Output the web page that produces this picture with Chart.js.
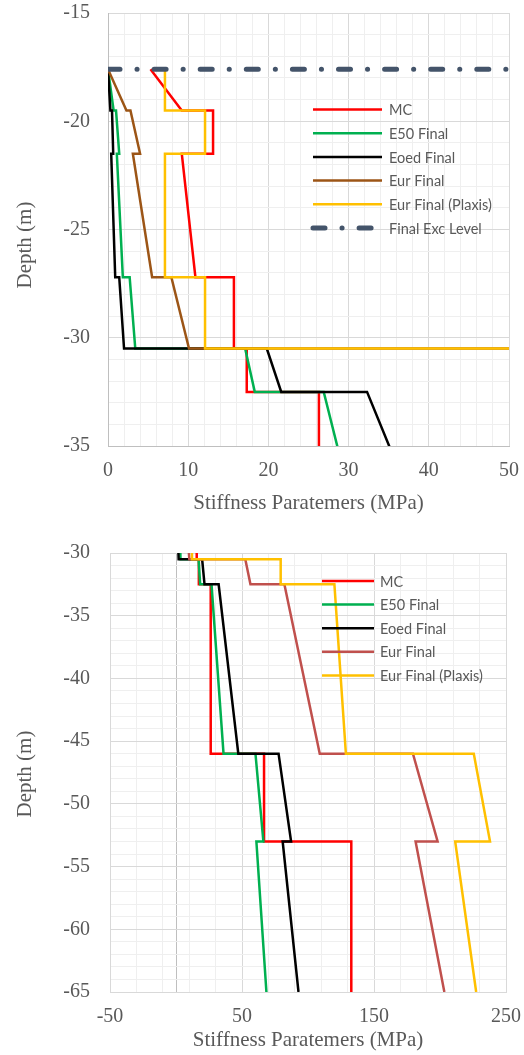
<!DOCTYPE html>
<html>
<head>
<meta charset="utf-8">
<script src="https://cdn.jsdelivr.net/npm/chart.js@4.4.1/dist/chart.umd.min.js"></script>
<style>
  body { margin: 0; background: #fff; }
  #top { position: absolute; left: 0; top: 0; }
  #bottom { position: absolute; left: 0; top: 525px; }
</style>
</head>
<body>
<canvas id="top" width="524" height="522"></canvas>
<canvas id="bottom" width="524" height="530"></canvas>
<script>
// Depth of each profile point (m), shared by all stiffness series
const depths = [-17.6, -19.5, -19.5, -21.5, -21.5, -27.2, -27.2, -30.5, -30.5, -32.5, -32.5, -46, -46, -53, -53, -65];

// Stiffness values (MPa)
const mcValues = [5.3, 9.2, 13.1, 13.1, 9.2, 10.9, 15.7, 15.7, 17.3, 17.3, 26.3, 26.3, 66.7, 66.7, 132.8, 132.8];
const e50Values = [0, 0.7, 1.0, 1.4, 1.1, 1.85, 2.7, 3.4, 17.1, 18.3, 26.9, 36.0, 60.2, 66.2, 60.9, 68.5];
const eoedValues = [0, 0.3, 0.5, 0.65, 0.4, 0.9, 1.4, 2.0, 19.8, 21.6, 32.3, 47.2, 77.7, 87.2, 80.8, 92.8];
const eurValues = [0, 2.3, 2.8, 4.0, 3.1, 5.5, 7.9, 10.1, 52.5, 56.4, 82.1, 108.9, 179.5, 198.2, 181.5, 203.3];
const plaxisValues = [7.1, 7.1, 12.1, 12.1, 7.1, 7.1, 12.1, 12.1, 79.3, 79.3, 120, 128.7, 225.6, 237.9, 211.5, 227.4];

// Final excavation level
const excDepth = [-17.6, -17.6];
const excValues = [0, 50];

const seriesNames = ['MC', 'E50 Final', 'Eoed Final', 'Eur Final', 'Eur Final (Plaxis)', 'Final Exc Level'];

// Tick labels
const topXLabels = [0, 10, 20, 30, 40, 50];
const topYLabels = [-15, -20, -25, -30, -35];
const bottomXLabels = [-50, 50, 150, 250];
const bottomYLabels = [-30, -35, -40, -45, -50, -55, -60, -65];

const tickColor = '#595959';
const majorGrid = '#D9D9D9';
const minorGrid = '#EFEFEF';
const axisGrey = '#BFBFBF';
const serif = "'Liberation Serif', 'Times New Roman', serif";

function toPoints(xs, ys) {
    return xs.map((x, i) => ({ x: x, y: ys[i] }));
}

function lineSet(label, values, ys, color, order) {
    return {
        label: label,
        data: toPoints(values, ys),
        showLine: true,
        borderColor: color,
        backgroundColor: color,
        borderWidth: 2.5,
        pointRadius: 0,
        tension: 0,
        order: order
    };
}

// Legend drawn inside the plot area, like the original
const insideLegend = {
    id: 'insideLegend',
    afterDatasetsDraw(chart, args, opts) {
        const ctx = chart.ctx;
        ctx.save();
        ctx.font = opts.font;
        ctx.fillStyle = tickColor;
        ctx.textBaseline = 'middle';
        chart.data.datasets.forEach((ds, i) => {
            const y = opts.top + i * opts.gap;
            ctx.beginPath();
            ctx.strokeStyle = ds.borderColor;
            ctx.lineWidth = ds.borderDash ? 5 : ds.borderWidth;
            ctx.lineCap = ds.borderCapStyle || 'butt';
            ctx.setLineDash(ds.borderDash || []);
            ctx.moveTo(opts.x1, y);
            ctx.lineTo(opts.x2, y);
            ctx.stroke();
            ctx.setLineDash([]);
            ctx.fillText(ds.label, opts.textX, y + 1);
        });
        ctx.restore();
    }
};

// Vertical axis title, placed where the original has it
const depthTitle = {
    id: 'depthTitle',
    afterDraw(chart, args, opts) {
        const ctx = chart.ctx;
        ctx.save();
        ctx.translate(opts.x, opts.y);
        ctx.rotate(-Math.PI / 2);
        ctx.font = '21px ' + serif;
        ctx.fillStyle = tickColor;
        ctx.textAlign = 'center';
        ctx.textBaseline = 'middle';
        ctx.fillText('Depth (m)', 0, 0);
        ctx.restore();
    }
};

function axisOptions(cfg) {
    return {
        x: {
            type: 'linear',
            min: cfg.xMin,
            max: cfg.xMax,
            afterFit: s => {
                s.height = cfg.xHeight;
                s.paddingLeft = 0;
                s.paddingRight = 0;
            },
            ticks: {
                stepSize: cfg.xStep,
                autoSkip: false,
                maxRotation: 0,
                padding: cfg.xTickPad,
                color: tickColor,
                font: { family: serif, size: 20 },
                callback: v => cfg.xLabels.includes(v) ? String(v) : ''
            },
            grid: {
                drawTicks: false,
                lineWidth: 1,
                color: c => cfg.xGrid(c.tick.value)
            },
            border: { color: cfg.xBorder, width: 1 },
            title: {
                display: true,
                text: 'Stiffness Paratemers (MPa)',
                color: tickColor,
                font: { family: serif, size: 21 },
                padding: { top: 0, bottom: cfg.xTitlePad }
            }
        },
        y: {
            type: 'linear',
            min: cfg.yMin,
            max: cfg.yMax,
            afterFit: s => {
                s.width = cfg.yWidth;
                s.paddingTop = 0;
                s.paddingBottom = 0;
            },
            ticks: {
                stepSize: 1,
                autoSkip: false,
                padding: cfg.yTickPad,
                color: tickColor,
                font: { family: serif, size: 20 },
                callback: v => cfg.yLabels.includes(v) ? String(v) : ''
            },
            grid: {
                drawTicks: false,
                lineWidth: 1,
                color: c => (c.tick.value % 5 === 0 ? majorGrid : minorGrid)
            },
            border: { color: cfg.yBorder, width: 1 },
            title: { display: false }
        }
    };
}

// Upper chart: shallow zone
const topSets = [
    lineSet(seriesNames[0], mcValues, depths, '#FF0000', 6),
    lineSet(seriesNames[1], e50Values, depths, '#00B050', 5),
    lineSet(seriesNames[2], eoedValues, depths, '#000000', 4),
    lineSet(seriesNames[3], eurValues, depths, '#9C5516', 3),
    lineSet(seriesNames[4], plaxisValues, depths, '#FFC000', 2),
    Object.assign(lineSet(seriesNames[5], excValues, excDepth, '#44546A', 1), {
        borderWidth: 5,
        borderDash: [12, 17, 0.1, 17],
        borderCapStyle: 'round'
    })
];

new Chart(document.getElementById('top'), {
    type: 'scatter',
    data: { datasets: topSets },
    plugins: [insideLegend, depthTitle],
    options: {
        responsive: false,
        animation: false,
        layout: { padding: { top: 13, right: 15, left: 0, bottom: 0 } },
        scales: axisOptions({
            xMin: 0, xMax: 50, xStep: 2, xLabels: topXLabels,
            yMin: -35, yMax: -15, yLabels: topYLabels,
            xHeight: 76, yWidth: 108, xTickPad: 13, yTickPad: 18, xTitlePad: 6,
            xBorder: axisGrey, yBorder: axisGrey,
            xGrid: v => (v % 10 === 0 ? majorGrid : minorGrid)
        }),
        plugins: {
            legend: { display: false },
            tooltip: { enabled: false },
            insideLegend: { x1: 313, x2: 382, textX: 389, top: 109.5, gap: 23.7, font: "14.5px Lato, 'Open Sans', sans-serif" },
            depthTitle: { x: 25, y: 245 }
        }
    }
});

// Lower chart: deep zone
const bottomSets = [
    lineSet(seriesNames[0], mcValues, depths, '#FF0000', 6),
    lineSet(seriesNames[1], e50Values, depths, '#00B050', 5),
    lineSet(seriesNames[2], eoedValues, depths, '#000000', 4),
    lineSet(seriesNames[3], eurValues, depths, '#C0504D', 3),
    lineSet(seriesNames[4], plaxisValues, depths, '#FFC000', 2)
];

new Chart(document.getElementById('bottom'), {
    type: 'scatter',
    data: { datasets: bottomSets },
    plugins: [insideLegend, depthTitle],
    options: {
        responsive: false,
        animation: false,
        layout: { padding: { top: 28, right: 18, left: 0, bottom: 0 } },
        scales: axisOptions({
            xMin: -50, xMax: 250, xStep: 10, xLabels: bottomXLabels,
            yMin: -65, yMax: -30, yLabels: bottomYLabels,
            xHeight: 63, yWidth: 110, xTickPad: 13, yTickPad: 20, xTitlePad: 2,
            xBorder: majorGrid, yBorder: majorGrid,
            xGrid: v => {
                if (v === 0) return axisGrey;
                if ((v + 50) % 100 === 0) return majorGrid;
                if ((v + 50) % 20 === 0) return minorGrid;
                return 'rgba(0,0,0,0)';
            }
        }),
        plugins: {
            legend: { display: false },
            tooltip: { enabled: false },
            insideLegend: { x1: 322, x2: 374, textX: 380, top: 56, gap: 23.6, font: "14.5px Lato, 'Open Sans', sans-serif" },
            depthTitle: { x: 25, y: 249 }
        }
    }
});
</script>
</body>
</html>
